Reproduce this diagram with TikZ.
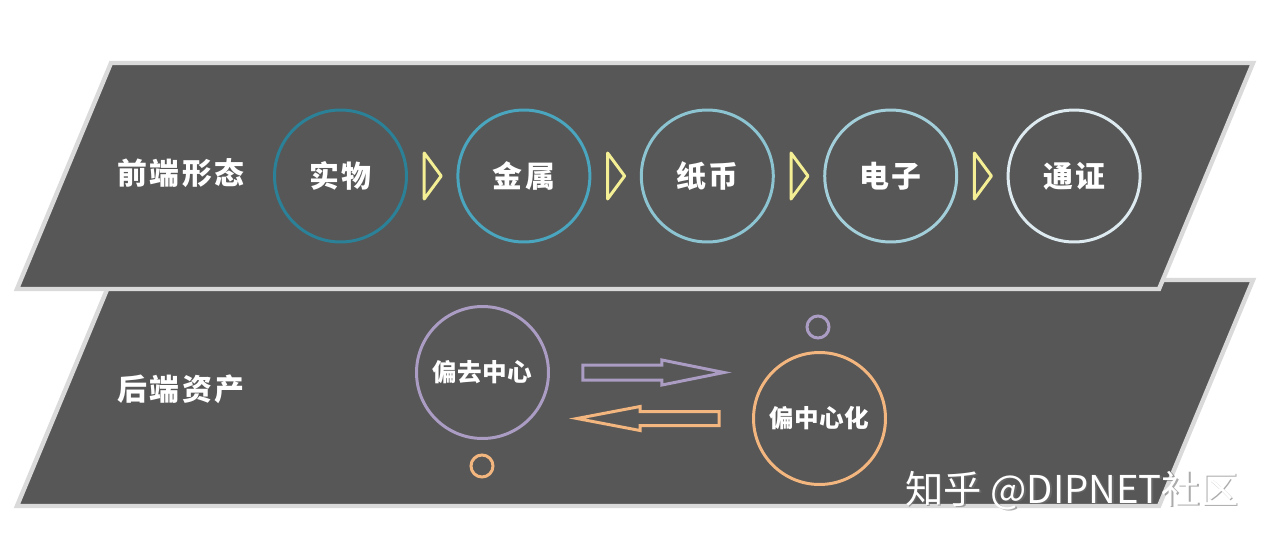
\documentclass[tikz,border=0pt]{standalone}
\usepackage{fontspec}
\usetikzlibrary{calc}
\newfontfamily\cjk{Noto Sans CJK SC}
\newfontfamily\cjkwide[LetterSpace=8]{Noto Sans CJK SC}
\newfontfamily\cjkmid[LetterSpace=1]{Noto Sans CJK SC}
\definecolor{panelfill}{HTML}{575757}
\definecolor{panelrim}{HTML}{DADADA}
\definecolor{tealA}{HTML}{2B8198}
\definecolor{tealB}{HTML}{4AA5BE}
\definecolor{tealC}{HTML}{8CC4D1}
\definecolor{tealD}{HTML}{A3CFDB}
\definecolor{tealE}{HTML}{DDEAEF}
\definecolor{tipyellow}{HTML}{F4EF94}
\definecolor{lilac}{HTML}{AB9CC4}
\definecolor{peach}{HTML}{F4B67F}
\tikzset{
  panel/.style={fill=panelfill, draw=panelrim, line width=2.5pt},
  lbl/.style={text=white, font=\cjkwide\bfseries\fontsize{17}{20}\selectfont},
  ring/.style={circle, line width=1.7pt, minimum size=2.64cm, inner sep=0pt,
    text=white, font=\cjkwide\bfseries\fontsize{17}{20}\selectfont},
  smallring/.style={ring, font=\cjkmid\bfseries\fontsize{14}{17}\selectfont},
  dot/.style={circle, line width=1.7pt, minimum size=0.44cm, inner sep=0pt},
  tri/.style={draw=tipyellow, line width=1.7pt, line join=round},
  blockarrow/.style={line width=1.7pt, line join=miter},
  wmtext/.style={text=white, font=\cjk\fontsize{21.8}{26}\selectfont, inner sep=0pt},
  wmshadow/.style={wmtext, text=black!55, opacity=0.6}
}
\begin{document}
\begin{tikzpicture}[x=0.02cm, y=-0.02cm]
\path[use as bounding box, fill=white] (0,0) rectangle (1270,548);
% the two slanted panels, lower one first
\foreach \y in {217,0} {
\draw[panel] (111,63+\y) -- (1253,63+\y) -- (1159,289+\y) -- (17,289+\y) -- cycle;
}
\node[lbl] (front) at (181,173) {前端形态};
\node[lbl] (back) at (181,389) {后端资产};
% front forms
\foreach \t/\c [count=\i from 0] in {实物/tealA,金属/tealB,纸币/tealC,电子/tealD,通证/tealE} {
\node[ring, draw=\c] (n\i) at (340.5+183.4*\i,176) {\t};
}
\foreach \a/\b in {n0/n1,n1/n2,n2/n3,n3/n4} {
\draw[tri] ($(\a.east)!0.5!(\b.west)$) ++(-8,-23) -- ++(17,23) -- ++(-17,23) -- cycle;
}
% back assets
\node[smallring, draw=lilac] (dec) at (482.5,372.5) {偏去中心};
\node[smallring, draw=peach] (cen) at (819.5,418.5) {偏中心化};
\node[dot, draw=peach] (decdot) at (482,466) {};
\node[dot, draw=lilac] (cendot) at (818,327) {};
\draw[blockarrow, draw=lilac] (dec.east) ++(33,-7.5) -- ++(79,0) -- ++(0,-5) -- ++(62,12.5)
  -- ++(-62,12.5) -- ++(0,-5) -- ++(-79,0) -- cycle;
\draw[blockarrow, draw=peach] (cen.west) ++(-33,-7) -- ++(-79,0) -- ++(0,-5) -- ++(-63,12)
  -- ++(63,12) -- ++(0,-5) -- ++(79,0) -- cycle;
% watermark
\node[wmshadow, anchor=west] (wmb) at (906.5,492) {知乎 @DIPNET社区};
\node[wmtext, anchor=west] (wm) at (905,490.5) {知乎 @DIPNET社区};
\end{tikzpicture}
\end{document}
